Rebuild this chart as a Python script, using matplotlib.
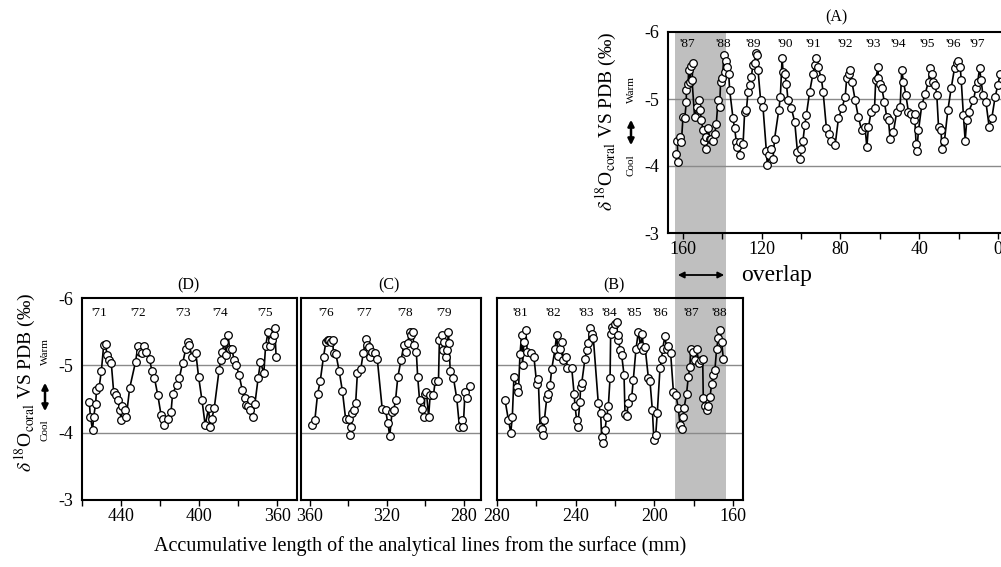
import matplotlib
matplotlib.use("Agg")
import matplotlib.pyplot as plt
from matplotlib.patches import Rectangle, FancyArrowPatch

plt.rcParams['font.family'] = ['Liberation Serif', 'DejaVu Serif']
plt.rcParams['mathtext.fontset'] = 'stix'

# ---------------- data ----------------
# Panel A (mm from surface, d18O)
a_mm = [163.3, 162.4, 162.8, 161.6, 160.7, 159.9, 159.0, 158.2, 158.2, 157.3, 157.0, 156.5, 155.7, 154.8,
        155.3, 154.0, 152.6, 151.9, 151.1, 150.6, 149.7, 149.2, 148.0, 148.0, 147.2, 146.3, 145.5, 144.7,
        143.8, 143.0, 142.1, 141.3, 140.8, 139.9, 139.1, 138.7, 137.9, 137.4, 136.7, 136.2, 134.5, 133.7,
        132.8, 132.3, 131.1, 131.1, 129.4, 128.6, 127.7, 126.9, 126.0, 125.2, 124.4, 123.5, 123.0, 122.2,
        121.8, 120.5, 119.3, 117.6, 117.1, 116.2, 115.4, 114.2, 113.4, 111.3, 110.5, 109.6, 109.1, 108.3,
        107.4, 106.6, 104.9, 103.2, 101.8, 100.7, 99.8, 99.0, 98.1, 97.3, 95.6, 93.9, 93.1, 92.2, 91.4,
        89.7, 88.8, 87.1, 85.9, 84.6, 82.7, 81.0, 79.3, 77.6, 76.8, 75.9, 75.1, 74.2, 72.5, 70.9, 69.2,
        67.5, 66.6, 65.8, 64.4, 62.7, 62.1, 61.0, 60.7, 59.9, 59.0, 57.7, 56.5, 55.6, 54.8, 53.1, 51.4,
        49.7, 48.9, 48.0, 46.8, 45.5, 44.1, 42.9, 42.4, 41.6, 41.2, 40.4, 38.7, 37.0, 35.3, 34.5, 33.6,
        32.8, 31.9, 31.1, 30.2, 28.9, 28.6, 27.2, 25.5, 23.8, 22.1, 20.9, 20.1, 19.2, 18.7, 17.6, 16.7,
        15.9, 15.0, 12.5, 11.3, 10.3, 9.4, 8.6, 7.7, 6.2, 4.5, 3.2, 1.5, 0.1, -1.1]
a_d18o = [-4.18, -4.06, -4.38, -4.43, -4.36, -4.73, -4.71, -4.96, -5.13, -5.23, -5.43, -5.26, -5.50, -5.53,
          -5.28, -4.73, -4.88, -4.98, -4.83, -4.68, -4.53, -4.38, -4.26, -4.43, -4.56, -4.41, -4.41, -4.38,
          -4.48, -4.63, -4.98, -4.88, -5.26, -5.31, -5.66, -5.41, -5.56, -5.48, -5.38, -5.13, -4.71, -4.56,
          -4.36, -4.28, -4.16, -4.36, -4.33, -4.81, -4.83, -5.11, -5.21, -5.33, -5.51, -5.53, -5.68, -5.66,
          -5.43, -4.98, -4.88, -4.23, -4.01, -4.16, -4.26, -4.11, -4.41, -4.83, -5.03, -5.61, -5.41, -5.38,
          -5.23, -4.98, -4.86, -4.66, -4.21, -4.11, -4.26, -4.38, -4.61, -4.76, -5.11, -5.38, -5.51, -5.61, -5.48,
          -5.31, -5.11, -4.56, -4.48, -4.38, -4.31, -4.71, -4.86, -5.03, -5.31, -5.38, -5.43, -5.26, -4.98, -4.73, -4.53,
          -4.58, -4.28, -4.58, -4.81, -4.86, -5.28, -5.48, -5.31, -5.23, -5.16, -4.96, -4.73, -4.68, -4.41, -4.51, -4.81,
          -4.88, -5.43, -5.26, -5.06, -4.81, -4.78, -4.68, -4.78, -4.33, -4.23, -4.53, -4.91, -5.08, -5.26, -5.46, -5.38,
          -5.26, -5.21, -5.06, -4.58, -4.53, -4.26, -4.38, -4.83, -5.16, -5.46, -5.53, -5.56, -5.48, -5.28, -4.76, -4.38,
          -4.68, -4.81, -4.98, -5.16, -5.26, -5.46, -5.28, -5.06, -4.96, -4.58, -4.71, -5.03, -5.21, -5.38]

# Panel B
b_mm = [275.9, 274.2, 273.0, 272.2, 271.4, 269.7, 269.1, 268.3, 267.5, 267.0, 266.3, 265.4, 264.6, 262.9,
        261.2, 259.8, 259.0, 258.1, 257.3, 256.4, 255.9, 254.7, 253.9, 253.0, 252.2, 250.5, 249.7, 248.8,
        248.0, 247.1, 246.3, 244.9, 244.2, 242.0, 240.8, 240.3, 239.5, 239.0, 237.8, 237.5, 236.9, 235.3,
        234.4, 233.6, 232.7, 231.9, 231.0, 228.5, 227.3, 226.8, 225.9, 225.1, 224.2, 223.4, 222.5, 222.2,
        221.7, 220.8, 220.0, 219.1, 218.6, 218.3, 217.5, 216.6, 215.4, 214.9, 214.1, 213.2, 211.5, 210.7,
        209.3, 208.1, 207.0, 206.1, 205.6, 204.7, 203.0, 202.2, 201.0, 200.2, 199.3, 198.5, 197.1, 196.3,
        195.8, 194.6, 193.7, 192.9, 191.7, 190.3, 189.0, 187.8, 186.9, 186.1, 185.3, 184.9, 183.6, 182.7,
        181.9, 181.5, 180.2, 179.3, 178.5, 177.3, 176.4, 175.4, 175.1, 174.2, 173.4, 172.5, 171.7, 170.8,
        170.0, 169.2, 168.3, 167.5, 166.6, 165.8, 164.9]
b_d18o = [-4.48, -4.19, -4.00, -4.24, -4.82, -4.68, -4.61, -5.17, -5.45, -5.00, -5.35, -5.53, -5.20, -5.18,
          -5.12, -4.72, -4.79, -4.09, -4.06, -3.96, -4.19, -4.51, -4.58, -4.71, -4.94, -5.24, -5.45, -5.14,
          -5.25, -5.35, -5.08, -5.13, -4.96, -4.96, -4.58, -4.39, -4.19, -4.09, -4.46, -4.68, -4.74, -5.09,
          -5.23, -5.33, -5.55, -5.47, -5.40, -4.44, -4.29, -3.94, -3.84, -4.04, -4.24, -4.39, -4.81, -5.47,
          -5.57, -5.52, -5.62, -5.65, -5.38, -5.45, -5.23, -5.15, -4.86, -4.28, -4.25, -4.44, -4.53, -4.78,
          -5.25, -5.50, -5.28, -5.47, -5.23, -5.27, -4.81, -4.76, -4.34, -3.89, -3.96, -4.29, -4.96, -5.09,
          -5.24, -5.43, -5.25, -5.28, -5.18, -4.61, -4.56, -4.36, -4.11, -4.06, -4.24, -4.36, -4.58, -4.83,
          -4.98, -5.25, -5.20, -5.08, -5.25, -5.03, -5.08, -5.10, -4.51, -4.39, -4.34, -4.39, -4.53, -4.73,
          -4.86, -4.93, -5.25, -5.40, -5.53, -5.35, -5.10]

# Panel C
c_mm = [359.1, 357.4, 356.0, 354.6, 352.9, 351.7, 350.8, 350.0, 349.1, 348.2, 347.7, 346.5, 344.8, 343.1,
        341.4, 339.6, 339.1, 338.4, 337.9, 337.1, 336.2, 335.3, 333.6, 332.2, 331.0, 330.2, 329.3, 328.5,
        327.6, 326.4, 325.0, 322.4, 320.7, 319.5, 318.5, 317.3, 316.4, 315.5, 314.3, 312.6, 311.2, 309.9,
        309.2, 308.2, 307.3, 306.4, 306.1, 304.7, 304.0, 303.0, 301.8, 300.9, 300.2, 299.5, 298.3, 297.5,
        295.8, 294.9, 293.2, 292.7, 291.5, 290.9, 290.2, 289.4, 288.7, 288.0, 287.7, 287.1, 285.4, 283.7,
        282.3, 281.1, 280.3, 279.4, 278.5, 276.8]
c_d18o = [-4.11, -4.19, -4.57, -4.77, -5.13, -5.34, -5.38, -5.38, -5.35, -5.37, -5.18, -5.17, -4.92, -4.62,
          -4.20, -4.21, -3.96, -4.08, -4.29, -4.34, -4.44, -4.89, -4.94, -5.19, -5.39, -5.30, -5.27, -5.13,
          -5.20, -5.18, -5.10, -4.35, -4.34, -4.14, -3.95, -4.31, -4.34, -4.48, -4.83, -5.08, -5.30, -5.20,
          -5.33, -5.49, -5.45, -5.49, -5.30, -5.20, -4.83, -4.48, -4.35, -4.24, -4.57, -4.61, -4.24, -4.56,
          -4.56, -4.76, -4.76, -5.38, -5.45, -5.23, -5.35, -5.13, -5.23, -5.49, -5.33, -4.91, -4.81, -4.51,
          -4.09, -4.19, -4.09, -4.61, -4.52, -4.69]

# Panel D
d_mm = [456.3, 455.7, 454.6, 454.0, 453.0, 452.6, 451.2, 450.1, 448.9, 447.9, 447.2, 446.2, 445.0, 443.8,
        442.4, 441.6, 440.7, 439.9, 439.4, 438.2, 437.3, 435.6, 432.6, 431.4, 430.2, 429.2, 428.0, 427.1,
        425.4, 424.2, 422.9, 421.2, 419.5, 418.7, 417.8, 416.1, 414.4, 413.6, 411.5, 410.2, 408.5, 406.8,
        405.9, 405.1, 403.7, 401.7, 400.3, 398.6, 396.9, 395.2, 394.4, 393.5, 392.3, 389.8, 388.9, 388.1,
        387.2, 386.1, 385.2, 384.4, 383.3, 382.1, 381.0, 379.6, 377.9, 376.5, 375.9, 375.0, 374.2, 373.5,
        372.5, 371.5, 369.8, 368.6, 366.9, 366.0, 364.7, 363.8, 362.6, 361.8, 361.3, 360.6]
d_d18o = [-4.46, -4.24, -4.04, -4.24, -4.43, -4.63, -4.68, -4.91, -5.30, -5.32, -5.15, -5.08, -5.03, -4.61,
          -4.56, -4.49, -4.34, -4.19, -4.39, -4.34, -4.24, -4.66, -5.05, -5.28, -5.20, -5.18, -5.28, -5.20,
          -5.10, -4.91, -4.81, -4.56, -4.26, -4.21, -4.11, -4.21, -4.31, -4.58, -4.71, -4.81, -5.03, -5.25,
          -5.35, -5.30, -5.13, -5.18, -4.83, -4.49, -4.11, -4.36, -4.09, -4.21, -4.36, -4.93, -5.08, -5.20,
          -5.35, -5.15, -5.45, -5.25, -5.25, -5.08, -5.00, -4.86, -4.63, -4.51, -4.41, -4.39, -4.34, -4.48,
          -4.24, -4.42, -4.81, -5.05, -4.88, -5.28, -5.50, -5.28, -5.38, -5.45, -5.55, -5.13]

# Year labels (text, position in mm)
a_years = ["'87", "'88", "'89", "'90", "'91", "'92", "'93", "'94", "'95", "'96", "'97"]
a_year_mm = [157.9, 139.6, 124.4, 108.0, 94.0, 77.7, 63.5, 50.8, 36.0, 22.8, 10.7]
b_years = ["'81", "'82", "'83", "'84", "'85", "'86", "'87", "'88"]
b_year_mm = [268.0, 251.5, 234.8, 223.0, 210.0, 196.8, 181.0, 167.0]
c_years = ["'76", "'77", "'78", "'79"]
c_year_mm = [351.7, 332.0, 310.5, 290.0]
d_years = ["'71", "'72", "'73", "'74", "'75"]
d_year_mm = [451.0, 431.0, 408.4, 389.0, 366.0]

yticks = [-6, -5, -4, -3]
ref_lines = [-5, -4]

# ---------------- figure ----------------
W, H = 1001, 567
fig = plt.figure(figsize=(W / 100, H / 100), dpi=100)


def fx(px):
    return px / W


def fy(py):
    return 1 - py / H


def make_ax(left, right, top, bottom, xlim, majors, minors, show_y):
    ax = fig.add_axes([fx(left), fy(bottom), fx(right - left), (bottom - top) / H])
    ax.set_facecolor('none')
    ax.set_xlim(*xlim)
    ax.set_ylim(-3, -6)
    ax.set_xticks(majors)
    ax.set_xticks(minors, minor=True)
    ax.set_yticks(yticks)
    ax.tick_params(axis='x', which='major', direction='out', length=4, width=1, labelsize=13, pad=2)
    ax.tick_params(axis='x', which='minor', direction='out', length=4, width=1)
    if show_y:
        ax.set_yticklabels([str(v) for v in yticks])
        ax.tick_params(axis='y', direction='out', length=0, labelsize=13, pad=6)
    else:
        ax.tick_params(axis='y', length=0, labelleft=False)
    for s in ax.spines.values():
        s.set_linewidth(1.5)
    for r in ref_lines:
        ax.axhline(r, color='#8a8a8a', lw=1.0, zorder=1)
    return ax


def draw_series(ax, xs, ys):
    ax.plot(xs, ys, color='black', lw=1.2, marker='o', ms=5.5, mfc='white', mec='black', mew=0.9, zorder=3)


def draw_years(ax, labels, pos, yv):
    for t, p in zip(labels, pos):
        ax.text(p, yv, t, ha='center', va='center', fontsize=9.5)


# shaded overlap band (spans panel A and panel B)
fig.add_artist(Rectangle((fx(675), fy(500)), fx(726) - fx(675), fy(32) - fy(500),
                         transform=fig.transFigure, facecolor='#bfbfbf', edgecolor='none', zorder=-1))

axA = make_ax(668, 1003, 32, 233, (167.5, -2.5), [160, 120, 80, 40, 0], [140, 100, 60, 20], True)
axD = make_ax(82, 297, 298, 500, (459.4, 349.9), [440, 400, 360], [460, 420, 380], True)
axC = make_ax(301, 481, 298, 500, (364.6, 271.1), [360, 320, 280], [340, 300], False)
axB = make_ax(497, 743, 298, 500, (280, 154.9), [280, 240, 200, 160], [260, 220, 180], False)

draw_series(axA, a_mm, a_d18o)
draw_series(axB, b_mm, b_d18o)
draw_series(axC, c_mm, c_d18o)
draw_series(axD, d_mm, d_d18o)

draw_years(axA, a_years, a_year_mm, -5.82)
draw_years(axB, b_years, b_year_mm, -5.77)
draw_years(axC, c_years, c_year_mm, -5.77)
draw_years(axD, d_years, d_year_mm, -5.77)

# panel titles
fig.text(fx(836), fy(17), '(A)', ha='center', va='center', fontsize=11.5)
fig.text(fx(188), fy(285), '(D)', ha='center', va='center', fontsize=11.5)
fig.text(fx(389), fy(285), '(C)', ha='center', va='center', fontsize=11.5)
fig.text(fx(614), fy(285), '(B)', ha='center', va='center', fontsize=11.5)

# y labels
ylab = r'$\delta^{18}$O$_{\rm coral}$ VS PDB (‰)'
fig.text(fx(606), fy(121), ylab, rotation=90, ha='center', va='center', fontsize=14)
fig.text(fx(25), fy(382), ylab, rotation=90, ha='center', va='center', fontsize=14)


def cool_warm(x, y_warm, y_a1, y_a2, y_cool):
    fig.text(fx(x), fy(y_warm), 'Warm', rotation=90, ha='center', va='center', fontsize=8)
    fig.text(fx(x), fy(y_cool), 'Cool', rotation=90, ha='center', va='center', fontsize=8)
    fig.add_artist(FancyArrowPatch((fx(x), fy(y_a1)), (fx(x), fy(y_a2)), transform=fig.transFigure,
                                   arrowstyle='<|-|>', mutation_scale=9, lw=1.8, color='black'))


cool_warm(631, 90, 117, 148, 165)
cool_warm(45, 352, 380, 414, 430)

# overlap arrow + text
fig.add_artist(FancyArrowPatch((fx(675), fy(275)), (fx(727), fy(275)), transform=fig.transFigure,
                               arrowstyle='<|-|>', mutation_scale=9, lw=1.3, color='black'))
fig.text(fx(741), fy(275), 'overlap', ha='left', va='center', fontsize=17)

# x label
fig.text(fx(420), fy(546), 'Accumulative length of the analytical lines from the surface (mm)',
         ha='center', va='center', fontsize=14.5)

fig.savefig('out.png', dpi=100)
